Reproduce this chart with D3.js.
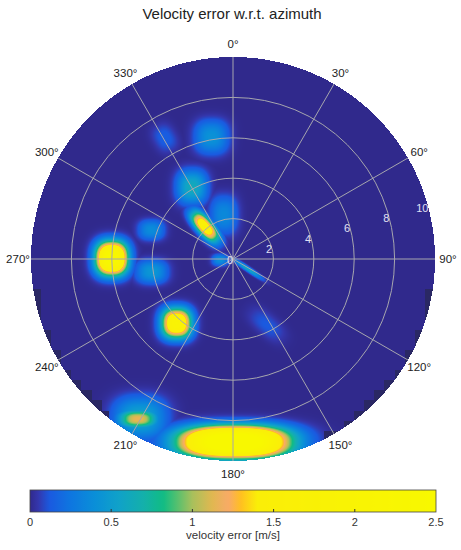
<!DOCTYPE html>
<html>
<head>
<meta charset="utf-8">
<style>
  body { margin: 0; background: #fff; }
  svg { display: block; font-family: "Liberation Sans", Arial, sans-serif; }
</style>
</head>
<body>
<div id="chart"></div>
<script src="https://cdn.jsdelivr.net/npm/d3@7"></script>
<script>
/* globals d3 */
// Hot spots: azimuth [deg], range [m], peak error [m/s],
// spread across / along the spot [m], and the heading of its long side [deg]
const hotAzimuth = [350, 330.6, 330.3, 319, 348.3, 289.6, 270.3, 261.1, 265.5, 124, 152.8, 221.3, 210.3, 210.7, 179.6]
const hotRange   = [6.13, 6.87, 4.1, 2.12, 2.22, 4.29, 6.0, 4.07, 0.64, 0.89, 3.67, 4.23, 9.12, 9.21, 9.06]
const hotPeak    = [0.42, 0.14, 0.62, 1.65, 0.36, 0.38, 2.5, 0.45, 0.4, 0.55, 0.12, 1.9, 0.55, 1.15, 3.0]
const hotWidth   = [0.8, 0.55, 0.72, 0.38, 0.65, 0.62, 0.76, 0.75, 0.38, 0.12, 0.5, 0.72, 1.25, 0.95, 2.6]
const hotLength  = [0.8, 0.7, 0.8, 0.88, 0.9, 0.48, 0.8, 0.56, 0.28, 0.8, 1.0, 0.72, 1.0, 0.45, 0.76]
const hotTilt    = [0, 330, 0, 319, 0, 0, 0, 0, 0, 124, 131, 0, 0, 0, 0]

const angleTicks = d3.range(0, 360, 30)
const rangeTicks = [0, 2, 4, 6, 8, 10]
const colorTicks = [0, 0.5, 1, 1.5, 2, 2.5]

const colorStops  = [0, 0.05, 0.12, 0.25, 0.4, 0.55, 0.7, 0.82, 0.9, 1.0, 1.12, 1.22, 1.3, 1.4, 2.5]
const colorValues = ['#30298c', '#3436ac', '#1a5ae0', '#0e76e0', '#0a8fd8', '#10a2c8', '#14b0aa',
  '#10bc84', '#50c070', '#a8c05c', '#e0b850', '#f8aa68', '#ffc020', '#faee08', '#f8f800']

const W = 461, H = 550
const cx = 233, cy = 259, R = 202
const rMax = 10

const rScale = d3.scaleLinear().domain([0, rMax]).range([0, R])
const xScale = d3.scaleLinear().domain([-rMax, rMax]).range([cx - R, cx + R])
const yScale = d3.scaleLinear().domain([-rMax, rMax]).range([cy + R, cy - R])
const color = d3.scaleLinear().domain(colorStops).range(colorValues)
  .interpolate(d3.interpolateRgb).clamp(true)
const rad = d => d * Math.PI / 180

const spots = hotAzimuth.map((az, i) => ({
  x: hotRange[i] * Math.sin(rad(az)),
  y: hotRange[i] * Math.cos(rad(az)),
  peak: hotPeak[i], w: hotWidth[i], h: hotLength[i], t: rad(hotTilt[i])
}))

function field(x, y) {
  let v = 0
  for (const s of spots) {
    const dx = x - s.x, dy = y - s.y
    const u = Math.abs(dx * Math.cos(s.t) - dy * Math.sin(s.t)) / s.w
    const w = Math.abs(dx * Math.sin(s.t) + dy * Math.cos(s.t)) / s.h
    v = Math.max(v, s.peak * Math.exp(-(u ** 2.5 + w ** 2.5)))
  }
  return v
}

// Heat map raster
const canvas = document.createElement('canvas')
canvas.width = W
canvas.height = H
const ctx = canvas.getContext('2d')
const img = ctx.createImageData(W, H)
const edge = d3.rgb('#2a2864')
for (let j = 0; j < H; j++) {
  for (let i = 0; i < W; i++) {
    const x = xScale.invert(i + 0.5), y = yScale.invert(j + 0.5)
    if (Math.hypot(x, y) > rMax) continue
    const v = field(x, y)
    let c = d3.rgb(color(v))
    // cells cut by the rim are drawn darker in the lower half
    const gx = (Math.floor(x / 0.5) + 0.5) * 0.5, gy = (Math.floor(y / 0.5) + 0.5) * 0.5
    if (y < -1 && Math.hypot(gx, gy) > rMax - 0.12 && v < 0.1) c = edge
    const k = (j * W + i) * 4
    img.data[k] = c.r
    img.data[k + 1] = c.g
    img.data[k + 2] = c.b
    img.data[k + 3] = 255
  }
}
ctx.putImageData(img, 0, 0)

const svg = d3.select('#chart').append('svg')
  .attr('width', W)
  .attr('height', H)
  .attr('viewBox', [0, 0, W, H])

svg.append('text')
  .attr('x', 232).attr('y', 19)
  .attr('text-anchor', 'middle')
  .attr('font-size', 15)
  .attr('fill', '#222')
  .text('Velocity error w.r.t. azimuth')

svg.append('image')
  .attr('x', 0).attr('y', 0)
  .attr('width', W).attr('height', H)
  .attr('href', canvas.toDataURL())

// Grid
const grid = svg.append('g')
  .attr('stroke', '#a6a6ae')
  .attr('stroke-width', 1)
  .attr('fill', 'none')
grid.selectAll('circle')
  .data(rangeTicks.filter(d => d > 0 && d < rMax))
  .join('circle')
  .attr('cx', cx).attr('cy', cy)
  .attr('r', d => rScale(d))
grid.selectAll('line')
  .data(angleTicks)
  .join('line')
  .attr('x1', cx).attr('y1', cy)
  .attr('x2', d => cx + R * Math.sin(rad(d)))
  .attr('y2', d => cy - R * Math.cos(rad(d)))

// Angle labels
svg.append('g')
  .attr('font-size', 11.5)
  .attr('fill', '#222')
  .attr('text-anchor', 'middle')
  .selectAll('text')
  .data(angleTicks)
  .join('text')
  .attr('x', d => cx + (R + 13) * Math.sin(rad(d)))
  .attr('y', d => cy - (R + 13) * Math.cos(rad(d)))
  .attr('dy', '0.35em')
  .text(d => d + '°')

// Range labels
svg.append('g')
  .attr('font-size', 11)
  .attr('fill', '#e0e0f4')
  .attr('text-anchor', 'middle')
  .selectAll('text')
  .data(rangeTicks)
  .join('text')
  .attr('x', d => cx + Math.min(rScale(d) - 3, R - 6) * Math.sin(rad(75)))
  .attr('y', d => cy - Math.min(rScale(d) - 3, R - 6) * Math.cos(rad(75)))
  .attr('dy', '0.35em')
  .text(d => d)

// Colorbar
const cbX = d3.scaleLinear().domain([0, 2.5]).range([30, 436])
const cbY = 490, cbH = 22
const grad = svg.append('defs').append('linearGradient')
  .attr('id', 'cb')
grad.selectAll('stop')
  .data(d3.range(0, 2.5001, 0.025))
  .join('stop')
  .attr('offset', d => d / 2.5)
  .attr('stop-color', d => color(d))
svg.append('rect')
  .attr('x', cbX(0)).attr('y', cbY)
  .attr('width', cbX(2.5) - cbX(0)).attr('height', cbH)
  .attr('fill', 'url(#cb)')
  .attr('stroke', '#444')
  .attr('stroke-width', 0.8)
svg.append('g')
  .selectAll('line')
  .data(colorTicks.slice(1, -1))
  .join('line')
  .attr('x1', d => cbX(d)).attr('x2', d => cbX(d))
  .attr('y1', cbY + cbH).attr('y2', cbY + cbH - 3)
  .attr('stroke', '#333')
svg.append('g')
  .attr('font-size', 11)
  .attr('fill', '#333')
  .attr('text-anchor', 'middle')
  .selectAll('text')
  .data(colorTicks)
  .join('text')
  .attr('x', d => cbX(d))
  .attr('y', 526)
  .text(d => d)
svg.append('text')
  .attr('x', 233).attr('y', 539)
  .attr('text-anchor', 'middle')
  .attr('font-size', 11.5)
  .attr('fill', '#333')
  .text('velocity error [m/s]')
</script>
</body>
</html>
